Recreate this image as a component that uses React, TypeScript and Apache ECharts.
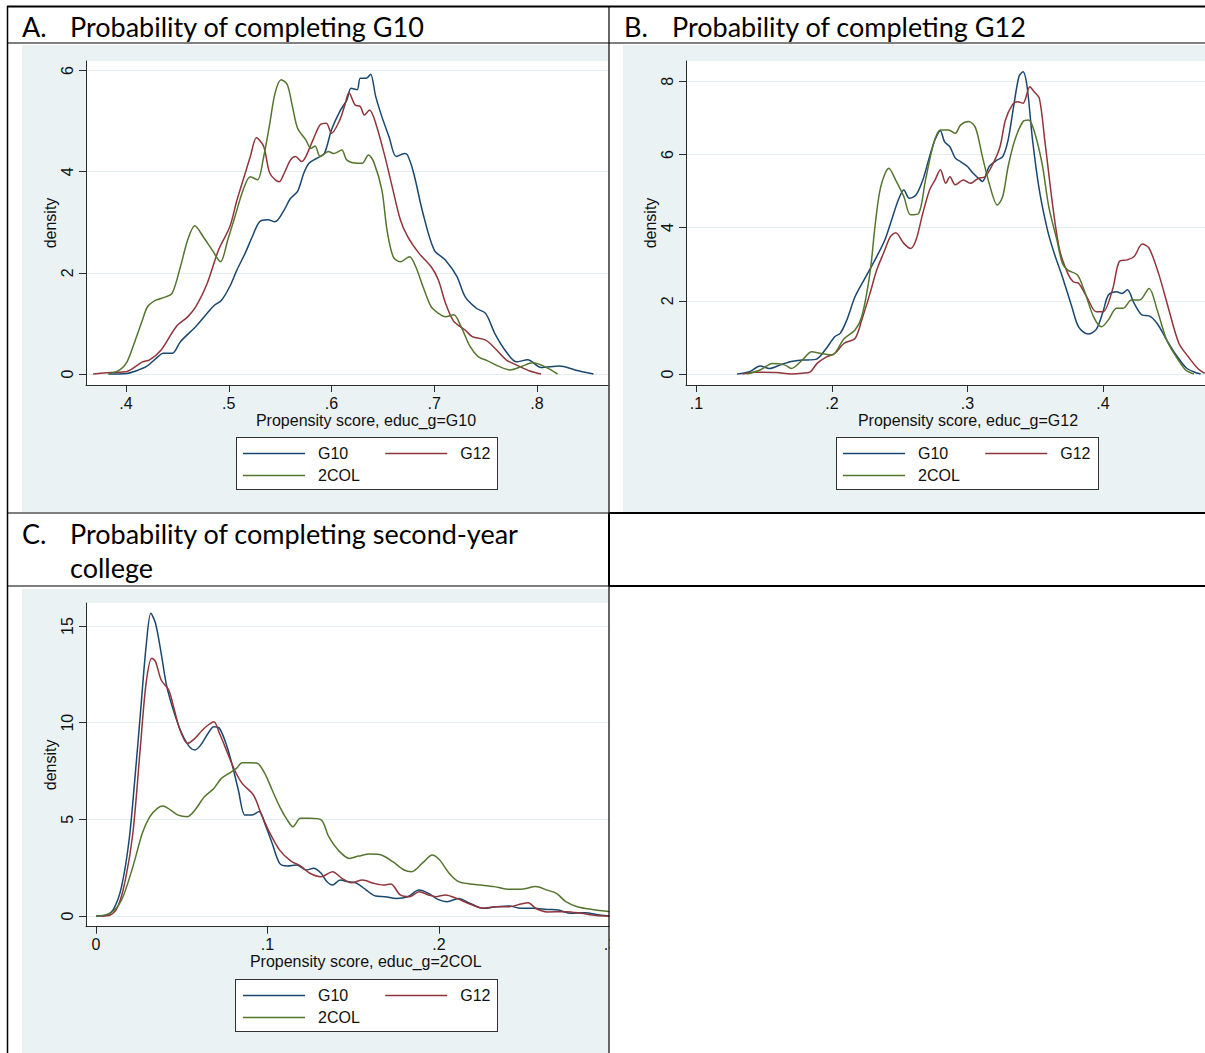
import React, { useEffect, useRef } from "react";
import * as echarts from "echarts";

const W = 1205;
const H = 1053;
const FONT = "'Liberation Sans', Arial, sans-serif";
const HFONT = "Lato, 'Open Sans', sans-serif";

const NAMES = ["G10", "G12", "2COL"];
const COLORS = ["#1A476F", "#90353B", "#55752F"];

const headerA = ["A.", "Probability of completing G10"];
const headerB = ["B.", "Probability of completing G12"];
const headerC = ["C.", "Probability of completing second-year", "college"];

const xTitleA = "Propensity score, educ_g=G10";
const xTitleB = "Propensity score, educ_g=G12";
const xTitleC = "Propensity score, educ_g=2COL";
const yTitle = "density";

const xTicksA = [0.4, 0.5, 0.6, 0.7, 0.8];
const yTicksA = [0, 2, 4, 6];
const xTicksB = [0.1, 0.2, 0.3, 0.4];
const yTicksB = [0, 2, 4, 6, 8];
const xTicksC = [0, 0.1, 0.2, 0.3];
const yTicksC = [0, 5, 10, 15];

// Panel A
const aG10: [number, number][] = [
  [0.383, 0], [0.401, 0.01], [0.408, 0.05], [0.42, 0.15], [0.431, 0.34], [0.436, 0.41], [0.445, 0.41],
  [0.453, 0.64], [0.468, 0.94], [0.479, 1.2], [0.486, 1.36], [0.493, 1.46], [0.501, 1.73], [0.508, 2.06],
  [0.516, 2.39], [0.523, 2.72], [0.53, 3.01], [0.538, 3.05], [0.545, 3.01], [0.553, 3.21], [0.56, 3.47],
  [0.567, 3.61], [0.573, 3.97], [0.578, 4.17], [0.586, 4.27], [0.593, 4.36], [0.6, 4.83], [0.608, 5.19],
  [0.615, 5.42], [0.619, 5.65], [0.625, 5.62], [0.628, 5.85], [0.634, 5.85], [0.638, 5.93], [0.643, 5.49],
  [0.649, 5.09], [0.656, 4.69], [0.663, 4.3], [0.671, 4.36], [0.674, 4.33], [0.68, 3.97], [0.689, 3.18],
  [0.7, 2.45], [0.711, 2.25], [0.722, 1.93], [0.73, 1.53], [0.741, 1.3], [0.75, 1.2], [0.759, 0.8],
  [0.77, 0.44], [0.78, 0.24], [0.791, 0.28], [0.804, 0.13], [0.822, 0.16], [0.837, 0.08], [0.855, 0],
];
const aG12: [number, number][] = [
  [0.368, 0], [0.386, 0.03], [0.401, 0.05], [0.416, 0.24], [0.423, 0.28], [0.434, 0.47], [0.449, 0.94],
  [0.46, 1.13], [0.468, 1.33], [0.479, 1.79], [0.49, 2.45], [0.501, 2.91], [0.508, 3.44], [0.516, 3.97],
  [0.521, 4.3], [0.527, 4.67], [0.534, 4.5], [0.54, 3.97], [0.549, 3.8], [0.554, 3.97], [0.56, 4.23],
  [0.565, 4.3], [0.571, 4.2], [0.575, 4.3], [0.582, 4.63], [0.589, 4.93], [0.595, 4.96], [0.6, 4.76],
  [0.608, 5.02], [0.613, 5.32], [0.617, 5.56], [0.623, 5.32], [0.628, 5.29], [0.632, 5.12], [0.637, 5.22],
  [0.643, 4.96], [0.652, 4.3], [0.659, 3.71], [0.667, 3.05], [0.674, 2.72], [0.685, 2.39], [0.697, 2.12],
  [0.704, 1.86], [0.711, 1.4], [0.719, 1.04], [0.73, 0.87], [0.737, 0.74], [0.75, 0.67], [0.759, 0.51],
  [0.77, 0.28], [0.782, 0.16], [0.793, 0.06], [0.804, 0],
];
const aCOL: [number, number][] = [
  [0.383, 0], [0.394, 0.08], [0.401, 0.24], [0.408, 0.61], [0.416, 1.07], [0.421, 1.33], [0.429, 1.46],
  [0.438, 1.52], [0.445, 1.6], [0.453, 2.12], [0.46, 2.65], [0.467, 2.93], [0.475, 2.72], [0.484, 2.45],
  [0.492, 2.22], [0.499, 2.65], [0.506, 3.11], [0.514, 3.64], [0.521, 3.9], [0.528, 3.84], [0.534, 4.3],
  [0.54, 4.96], [0.545, 5.55], [0.551, 5.82], [0.557, 5.72], [0.562, 5.29], [0.567, 4.86], [0.575, 4.63],
  [0.58, 4.46], [0.584, 4.51], [0.589, 4.3], [0.597, 4.4], [0.602, 4.36], [0.61, 4.43], [0.615, 4.23],
  [0.626, 4.17], [0.63, 4.17], [0.636, 4.33], [0.641, 4.2], [0.649, 3.64], [0.654, 2.85], [0.66, 2.32],
  [0.667, 2.22], [0.676, 2.32], [0.682, 2.12], [0.689, 1.73], [0.697, 1.33], [0.704, 1.2], [0.711, 1.13],
  [0.719, 1.17], [0.726, 0.94], [0.735, 0.54], [0.743, 0.34], [0.752, 0.26], [0.763, 0.15], [0.774, 0.08],
  [0.785, 0.15], [0.796, 0.22], [0.807, 0.15], [0.82, 0],
];

// Panel B
const bG10: [number, number][] = [
  [0.13, 0], [0.139, 0.06], [0.147, 0.22], [0.154, 0.15], [0.162, 0.25], [0.17, 0.34], [0.178, 0.38],
  [0.188, 0.4], [0.195, 0.66], [0.202, 1.02], [0.206, 1.11], [0.211, 1.48], [0.217, 2.11], [0.225, 2.66],
  [0.233, 3.21], [0.239, 3.66], [0.244, 4.21], [0.249, 4.76], [0.253, 5.03], [0.257, 4.8], [0.262, 4.89],
  [0.267, 5.3], [0.272, 5.94], [0.276, 6.4], [0.28, 6.65], [0.283, 6.35], [0.287, 6.21], [0.291, 5.9],
  [0.295, 5.8], [0.3, 5.67], [0.304, 5.49], [0.308, 5.35], [0.311, 5.26], [0.316, 5.67], [0.322, 5.85],
  [0.326, 5.94], [0.33, 6.4], [0.334, 7.3], [0.338, 8.13], [0.341, 8.26], [0.344, 7.85], [0.348, 6.4],
  [0.353, 5.03], [0.359, 3.94], [0.364, 3.3], [0.37, 2.66], [0.377, 1.84], [0.382, 1.29], [0.389, 1.09],
  [0.395, 1.22], [0.4, 1.7], [0.404, 2.16], [0.41, 2.25], [0.414, 2.2], [0.418, 2.3], [0.423, 1.93],
  [0.429, 1.61], [0.434, 1.59], [0.44, 1.38], [0.447, 0.93], [0.454, 0.52], [0.462, 0.15], [0.47, 0.02],
  [0.472, 0],
];
const bG12: [number, number][] = [
  [0.134, 0], [0.143, 0.05], [0.159, 0.04], [0.17, 0], [0.178, 0.02], [0.184, 0.06], [0.189, 0.29],
  [0.196, 0.47], [0.202, 0.56], [0.209, 0.84], [0.217, 0.97], [0.222, 1.48], [0.228, 2.2], [0.233, 2.84],
  [0.239, 3.39], [0.243, 3.75], [0.247, 3.86], [0.253, 3.57], [0.258, 3.43], [0.262, 3.66], [0.267, 4.39],
  [0.272, 5.03], [0.276, 5.3], [0.28, 5.58], [0.284, 5.21], [0.287, 5.39], [0.291, 5.17], [0.297, 5.3],
  [0.302, 5.21], [0.308, 5.35], [0.313, 5.39], [0.319, 5.76], [0.324, 6.21], [0.328, 6.94], [0.333, 7.35],
  [0.337, 7.44], [0.341, 7.4], [0.346, 7.85], [0.349, 7.72], [0.353, 7.54], [0.357, 6.4], [0.363, 4.57],
  [0.368, 3.39], [0.374, 2.75], [0.378, 2.52], [0.382, 2.48], [0.388, 2.11], [0.395, 1.7], [0.4, 1.7],
  [0.407, 2.3], [0.412, 3.07], [0.418, 3.12], [0.423, 3.21], [0.429, 3.55], [0.434, 3.44], [0.441, 2.75],
  [0.448, 1.84], [0.456, 0.84], [0.463, 0.47], [0.47, 0.15], [0.475, 0.02],
];
const bCOL: [number, number][] = [
  [0.137, 0], [0.147, 0.11], [0.156, 0.29], [0.165, 0.25], [0.17, 0.15], [0.178, 0.38], [0.185, 0.61],
  [0.192, 0.56], [0.2, 0.52], [0.209, 0.97], [0.217, 1.2], [0.222, 1.57], [0.228, 2.75], [0.232, 4.12],
  [0.236, 5.12], [0.242, 5.62], [0.247, 5.3], [0.253, 4.85], [0.258, 4.35], [0.264, 4.39], [0.269, 5.3],
  [0.275, 6.3], [0.28, 6.67], [0.286, 6.67], [0.291, 6.58], [0.295, 6.81], [0.301, 6.9], [0.306, 6.72],
  [0.311, 5.94], [0.316, 5.21], [0.322, 4.62], [0.326, 4.85], [0.33, 5.67], [0.335, 6.4], [0.341, 6.9],
  [0.345, 6.94], [0.349, 6.67], [0.355, 5.76], [0.36, 4.57], [0.366, 3.66], [0.37, 3.03], [0.374, 2.84],
  [0.381, 2.71], [0.386, 2.3], [0.393, 1.57], [0.399, 1.29], [0.404, 1.48], [0.41, 1.8], [0.415, 1.8],
  [0.421, 2.02], [0.427, 2.02], [0.434, 2.34], [0.44, 1.75], [0.447, 0.93], [0.454, 0.47], [0.461, 0.11],
  [0.467, 0],
];

// Panel C
const cG10: [number, number][] = [
  [0, 0], [0.006, 0.05], [0.0105, 0.4], [0.0149, 1.52], [0.0193, 3.93], [0.0226, 7.03], [0.0259, 10.48],
  [0.0292, 13.93], [0.032, 15.66], [0.0347, 15.14], [0.038, 13.59], [0.0413, 11.86], [0.0457, 10.48],
  [0.05, 9.45], [0.0544, 8.76], [0.0577, 8.59], [0.061, 8.84], [0.0654, 9.45], [0.0687, 9.79], [0.072, 9.71],
  [0.0764, 8.76], [0.0797, 7.72], [0.083, 6.52], [0.0869, 5.22], [0.0907, 5.22], [0.0951, 5.4], [0.0984, 4.79],
  [0.1027, 3.76], [0.1071, 2.72], [0.1115, 2.59], [0.117, 2.64], [0.1225, 2.38], [0.1269, 2.47], [0.1313, 2.21],
  [0.1346, 1.78], [0.1379, 1.6], [0.1423, 1.86], [0.1467, 1.78], [0.1521, 1.69], [0.1576, 1.34], [0.1631, 1.03],
  [0.1686, 1.0], [0.1752, 0.91], [0.1818, 1.0], [0.1884, 1.34], [0.1939, 1.17], [0.1993, 0.86], [0.2048, 0.74],
  [0.2114, 0.91], [0.218, 0.66], [0.2257, 0.4], [0.2334, 0.48], [0.241, 0.52], [0.2476, 0.4], [0.2553, 0.4],
  [0.263, 0.34], [0.2696, 0.31], [0.2762, 0.14], [0.285, 0.17], [0.2937, 0.05], [0.3, 0],
];
const cG12: [number, number][] = [
  [0.003, 0], [0.0083, 0.05], [0.0127, 0.48], [0.0171, 1.86], [0.0215, 4.28], [0.0259, 8.76], [0.0292, 12.03],
  [0.0325, 13.33], [0.0347, 13.16], [0.038, 12.21], [0.0424, 11.69], [0.0457, 10.66], [0.049, 9.62],
  [0.0533, 8.93], [0.0577, 9.19], [0.0621, 9.62], [0.0654, 9.88], [0.0687, 10.05], [0.072, 9.45], [0.0764, 8.5],
  [0.0808, 7.55], [0.0852, 6.86], [0.0918, 6.26], [0.0962, 5.31], [0.1005, 4.45], [0.1071, 3.41], [0.1137, 2.84],
  [0.1192, 2.59], [0.1247, 2.21], [0.1313, 2.03], [0.1379, 2.29], [0.1434, 1.95], [0.1488, 1.72], [0.1554, 1.86],
  [0.162, 1.69], [0.1675, 1.6], [0.1719, 1.66], [0.1774, 1.09], [0.1829, 1.0], [0.1884, 1.26], [0.1939, 1.09],
  [0.1982, 1.0], [0.2037, 1.09], [0.2103, 0.91], [0.218, 0.62], [0.2257, 0.4], [0.2334, 0.48], [0.241, 0.48],
  [0.2476, 0.62], [0.252, 0.69], [0.2564, 0.4], [0.263, 0.21], [0.274, 0.22], [0.2828, 0.14], [0.2915, 0.03],
  [0.3, 0],
];
const cCOL: [number, number][] = [
  [0, 0], [0.0083, 0.14], [0.0149, 0.83], [0.0215, 2.55], [0.027, 4.28], [0.0314, 5.14], [0.0358, 5.57],
  [0.0391, 5.69], [0.0435, 5.48], [0.0479, 5.22], [0.0533, 5.14], [0.0577, 5.48], [0.0632, 6.17], [0.0687, 6.6],
  [0.0731, 7.12], [0.0775, 7.38], [0.0819, 7.64], [0.0852, 7.93], [0.0896, 7.93], [0.094, 7.9], [0.0984, 7.38],
  [0.1027, 6.52], [0.1071, 5.66], [0.1115, 4.97], [0.1148, 4.62], [0.1192, 5.05], [0.1247, 5.05], [0.1313, 4.97],
  [0.1357, 4.1], [0.1412, 3.41], [0.1477, 2.98], [0.1532, 3.1], [0.1598, 3.21], [0.1664, 3.16], [0.173, 2.81],
  [0.1796, 2.38], [0.184, 2.29], [0.1906, 2.76], [0.196, 3.16], [0.2004, 2.9], [0.2059, 2.21], [0.2114, 1.78],
  [0.218, 1.66], [0.2246, 1.6], [0.2323, 1.52], [0.241, 1.38], [0.2476, 1.38], [0.2564, 1.52], [0.263, 1.34],
  [0.2685, 1.17], [0.274, 0.74], [0.2806, 0.48], [0.2893, 0.34], [0.3, 0.22],
];

const fmt = (v: number) => (v === 0 ? "0" : String(v).replace(/^0\./, "."));
const AXIS = "#2b2b2b";
const GRIDLINE = "#E3EDEF";
const TEXT = "#111";

function mkX(gridIndex: number, min: number, max: number, ticks: number[], name: string, padLeft: number) {
  return {
    type: "value",
    gridIndex,
    min,
    max,
    name,
    nameLocation: "middle",
    nameGap: 27,
    nameTextStyle: { fontFamily: FONT, fontSize: 16, color: TEXT, padding: [0, 0, 0, padLeft] },
    axisLine: { show: true, onZero: false, lineStyle: { color: AXIS, width: 1 } },
    axisTick: { show: true, length: 7, customValues: ticks, lineStyle: { color: AXIS, width: 1 } },
    axisLabel: {
      customValues: ticks,
      formatter: fmt,
      margin: 10,
      fontFamily: FONT,
      fontSize: 16,
      color: TEXT,
      hideOverlap: false,
    },
    splitLine: { show: false },
  };
}

function mkY(gridIndex: number, min: number, max: number, ticks: number[]) {
  return {
    type: "value",
    gridIndex,
    min,
    max,
    name: yTitle,
    nameLocation: "middle",
    nameRotate: 90,
    nameGap: 28,
    nameTextStyle: { fontFamily: FONT, fontSize: 16, color: TEXT },
    axisLine: { show: true, onZero: false, lineStyle: { color: AXIS, width: 1 } },
    axisTick: { show: true, length: 7, customValues: ticks, lineStyle: { color: AXIS, width: 1 } },
    axisLabel: {
      customValues: ticks,
      formatter: fmt,
      rotate: 90,
      margin: 11,
      fontFamily: FONT,
      fontSize: 16,
      color: TEXT,
      hideOverlap: false,
    },
    splitLine: { show: true, lineStyle: { color: GRIDLINE, width: 1 } },
  };
}

function mkSeries(gi: number, datas: [number, number][][]) {
  return datas.map((d, i) => ({
    type: "line",
    name: NAMES[i],
    xAxisIndex: gi,
    yAxisIndex: gi,
    data: d,
    showSymbol: false,
    symbol: "none",
    smooth: 0.3,
    color: COLORS[i],
    lineStyle: { width: 1.5, color: COLORS[i] },
    z: 2,
  }));
}

const ICON_H = 1.5;
const legendBase = {
  orient: "horizontal",
  icon: "rect",
  itemWidth: 62,
  itemHeight: ICON_H,
  padding: 0,
  selectedMode: false,
  textStyle: { fontFamily: FONT, fontSize: 16, color: TEXT, padding: [0, 0, 0, 8] },
};

function mkLegends(left: number, row1: number, row2: number) {
  return [
    { ...legendBase, data: [NAMES[0], NAMES[1]], left, top: row1 - 7.5, itemGap: 37 },
    { ...legendBase, data: [NAMES[2]], left, top: row2 - 7.5 },
  ];
}

function hText(x: number, y: number, text: string) {
  return {
    type: "text",
    x,
    y,
    z: 100,
    style: { text, fontFamily: HFONT, fontSize: 27, fill: "#000", verticalAlign: "middle", align: "left" },
  };
}

function hLine(x1: number, y1: number, x2: number, y2: number, w: number) {
  return {
    type: "line",
    z: 100,
    z2: 10,
    shape: { x1, y1, x2, y2 },
    style: { stroke: "#000", lineWidth: w },
  };
}

const option = {
  animation: false,
  grid: [
    { left: 86, top: 61, width: 522, height: 324, show: true, backgroundColor: "#fff", borderWidth: 0, outerBoundsMode: "none", containLabel: false },
    { left: 686, top: 61, width: 564, height: 324, show: true, backgroundColor: "#fff", borderWidth: 0, outerBoundsMode: "none", containLabel: false },
    { left: 86, top: 603, width: 524.5, height: 323.7, show: true, backgroundColor: "#fff", borderWidth: 0, outerBoundsMode: "none", containLabel: false },
  ],
  xAxis: [
    mkX(0, 0.36107, 0.8691, xTicksA, xTitleA, 38),
    mkX(1, 0.09225, 0.5085, xTicksB, xTitleB, 0),
    mkX(2, -0.00583, 0.3, xTicksC, xTitleC, 35),
  ],
  yAxis: [
    mkY(0, -0.2176, 6.19, yTicksA),
    mkY(1, -0.3006, 8.554, yTicksB),
    mkY(2, -0.553, 16.19, yTicksC),
  ],
  legend: [...mkLegends(243, 453, 475), ...mkLegends(843, 453, 475), ...mkLegends(243, 995, 1017)],
  series: [
    ...mkSeries(0, [aG10, aG12, aCOL]),
    ...mkSeries(1, [bG10, bG12, bCOL]),
    ...mkSeries(2, [cG10, cG12, cCOL]),
  ],
  graphic: {
    elements: [
      { type: "rect", z: 100, z2: 0, shape: { x: 609.5, y: 587, width: 600, height: 470 }, style: { fill: "#fff" } },
      hText(22, 26.5, headerA[0]),
      hText(70, 26.5, headerA[1]),
      hText(624, 26.5, headerB[0]),
      hText(672, 26.5, headerB[1]),
      hText(22, 533, headerC[0]),
      hText(70, 533, headerC[1]),
      hText(70, 567, headerC[2]),
      hLine(7, 6.5, W, 6.5, 2),
      hLine(7, 43, W, 43, 1.2),
      hLine(7.5, 6, 7.5, H, 1.5),
      hLine(609, 6, 609, H, 1.2),
      hLine(7, 513, W, 513, 1.2),
      hLine(609, 513, W, 513, 2),
      hLine(7, 586, W, 586, 1.2),
      hLine(609, 586, W, 586, 2),
      hLine(609, 513, 609, 586, 2),
    ],
  },
};

const GRAY = "#EAF2F3";
const panels = [
  { left: 22, top: 45, width: 586, height: 467 },
  { left: 623, top: 45, width: 582, height: 467 },
  { left: 22, top: 589, width: 586, height: 464 },
];
const legendBoxes = [
  { left: 236, top: 437, width: 262, height: 53 },
  { left: 836, top: 437, width: 263, height: 53 },
  { left: 235, top: 979, width: 263, height: 53 },
];

export default function App() {
  const ref = useRef<HTMLDivElement>(null);
  useEffect(() => {
    const chart = echarts.init(ref.current as HTMLDivElement, null, { renderer: "svg", width: W, height: H });
    chart.setOption(option as any);
    return () => chart.dispose();
  }, []);
  return (
    <div style={{ position: "absolute", left: 0, top: 0, width: W, height: H, background: "#fff", overflow: "hidden" }}>
      {panels.map((p, i) => (
        <div key={"p" + i} style={{ position: "absolute", ...p, background: GRAY }} />
      ))}
      {legendBoxes.map((b, i) => (
        <div
          key={"l" + i}
          style={{ position: "absolute", ...b, background: "#fff", border: "1.3px solid #333", boxSizing: "border-box" }}
        />
      ))}
      <div ref={ref} style={{ position: "absolute", left: 0, top: 0, width: W, height: H }} />
    </div>
  );
}
